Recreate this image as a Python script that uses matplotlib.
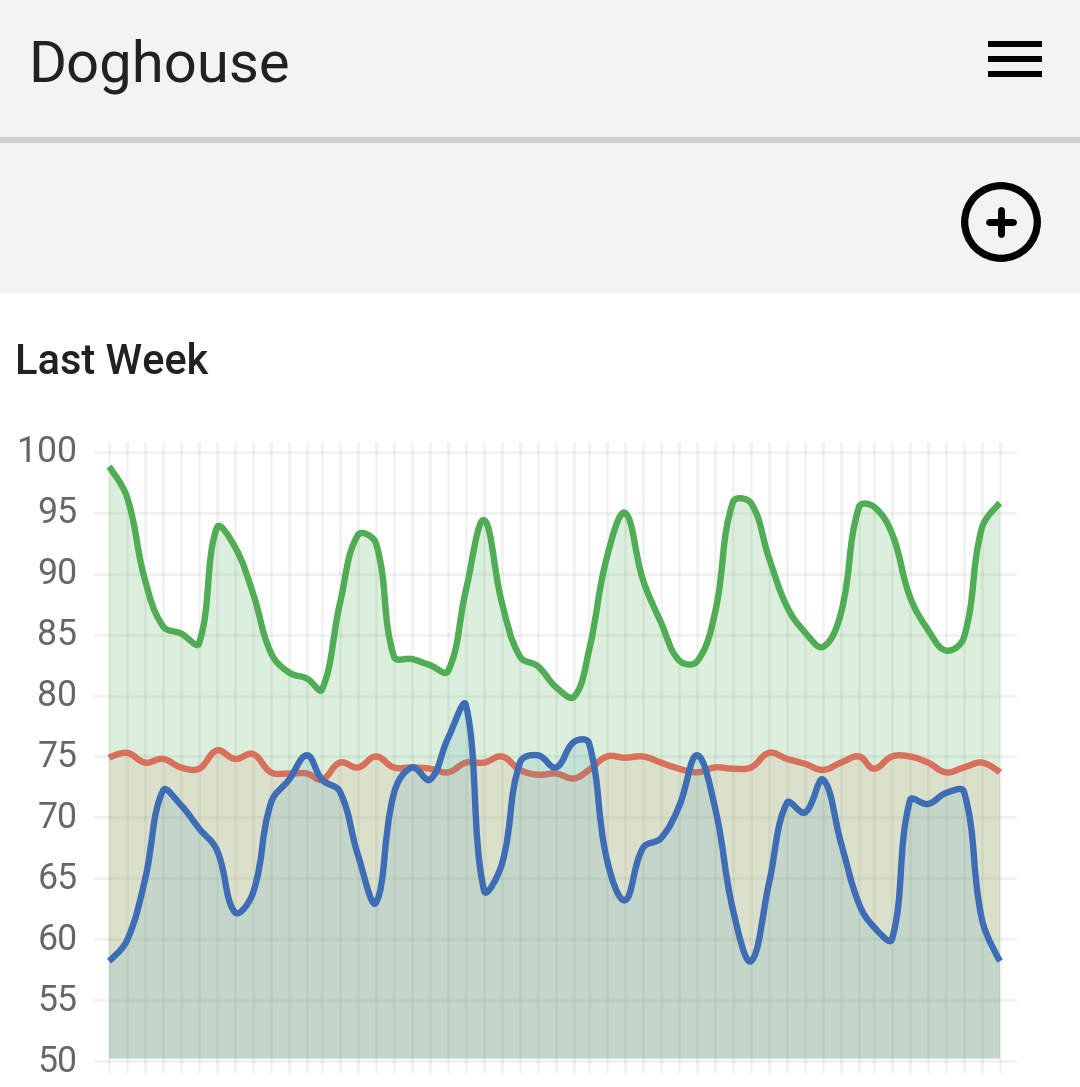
import math
import matplotlib
matplotlib.use('Agg')
import matplotlib.pyplot as plt
from matplotlib.patches import Rectangle, Circle, PathPatch
from matplotlib.path import Path
from matplotlib.transforms import ScaledTranslation

plt.rcParams['font.family'] = ['Roboto', 'DejaVu Sans']

# Time of each sample in hours (the axis is a time scale, a few steps are shorter)
hours = [0, 3, 6, 9, 12, 15, 18, 21, 24, 27, 30, 33, 35.5, 38.5, 41.5, 44.5, 47.5,
         50.5, 53.5, 56.5, 59.5, 62.5, 65.5, 68.5, 71.5, 74.5, 77.5, 80, 83, 86, 89,
         92, 95, 98, 101, 104, 107, 110, 113, 116, 119, 122, 125, 127.5, 130.5,
         133.5, 136.5, 139.5, 142.5, 145.5, 148.5]

green = [98.8, 96.3, 89.5, 85.7, 85.1, 84.3, 93.8, 92.2, 88.4, 83.5, 81.9, 81.4,
         80.5, 87.6, 93.2, 92.5, 83.2, 83.0, 82.5, 82.0, 88.7, 94.4, 87.6, 83.2,
         82.4, 80.7, 79.9, 83.7, 91.4, 95.0, 89.5, 86.0, 82.9, 82.8, 86.8, 95.9,
         95.8, 91.3, 87.3, 85.2, 84.0, 86.8, 95.5, 95.5, 93.3, 88.1, 85.4, 83.7,
         84.8, 93.8, 95.8]

red = [74.9, 75.3, 74.5, 74.8, 74.1, 74.0, 75.5, 74.8, 75.2, 73.7, 73.6, 73.6,
       73.1, 74.5, 74.1, 75.0, 74.1, 74.1, 74.0, 73.7, 74.5, 74.5, 75.0, 73.9,
       73.5, 73.6, 73.2, 73.9, 75.0, 74.9, 75.0, 74.5, 74.0, 73.7, 74.1, 74.0,
       74.1, 75.3, 74.8, 74.4, 73.9, 74.5, 75.0, 74.0, 75.0, 75.0, 74.5, 73.7,
       74.1, 74.5, 73.7]

blue = [58.2, 59.9, 64.9, 72.2, 71.0, 69.1, 67.3, 62.2, 63.8, 71.2, 73.1, 75.1,
        73.1, 72.1, 66.9, 63.0, 72.0, 74.1, 73.1, 76.5, 79.2, 64.0, 66.2, 74.5,
        75.1, 74.1, 76.2, 76.1, 66.5, 63.2, 67.5, 68.3, 70.9, 75.1, 70.8, 62.4,
        58.2, 64.6, 71.2, 70.4, 73.1, 67.9, 62.9, 61.0, 60.0, 71.4, 71.1, 72.0,
        72.1, 61.6, 58.2]

y_ticks = [50, 55, 60, 65, 70, 75, 80, 85, 90, 95, 100]


def smooth_path(xs, ys, sx, sy, base=None, tension=0.4):
    """Bezier through the samples, control points worked out like chart.js does."""
    n = len(xs)
    before = []
    after = []
    for i in range(n):
        if i == 0 or i == n - 1:
            before.append((xs[i], ys[i]))
            after.append((xs[i], ys[i]))
            continue
        d01 = math.hypot((xs[i] - xs[i - 1]) * sx, (ys[i] - ys[i - 1]) * sy)
        d12 = math.hypot((xs[i + 1] - xs[i]) * sx, (ys[i + 1] - ys[i]) * sy)
        fa = tension * d01 / (d01 + d12)
        fb = tension * d12 / (d01 + d12)
        dx = xs[i + 1] - xs[i - 1]
        dy = ys[i + 1] - ys[i - 1]
        before.append((xs[i] - fa * dx, ys[i] - fa * dy))
        after.append((xs[i] + fb * dx, ys[i] + fb * dy))
    verts = [(xs[0], ys[0])]
    codes = [Path.MOVETO]
    for i in range(n - 1):
        verts += [after[i], before[i + 1], (xs[i + 1], ys[i + 1])]
        codes += [Path.CURVE4] * 3
    if base is not None:
        verts += [(xs[-1], base), (xs[0], base), (xs[0], ys[0])]
        codes += [Path.LINETO, Path.LINETO, Path.CLOSEPOLY]
    return Path(verts, codes)


W, H = 1080, 1087
fig = plt.figure(figsize=(W / 100, H / 100), dpi=100, facecolor='white')

# page furniture in pixel coordinates
page = fig.add_axes([0, 0, 1, 1])
page.set_xlim(0, W)
page.set_ylim(H, 0)
page.axis('off')
page.add_patch(Rectangle((0, 0), W, 293, color='#f3f3f3', lw=0))
page.add_patch(Rectangle((0, 137), W, 6, color='#cfcfcf', lw=0))
for top in [41, 56, 71]:
    page.add_patch(Rectangle((988, top), 54, 6, color='black', lw=0))
page.add_patch(Circle((1001, 222), 36.3, fill=False, ec='black', lw=5.2))
page.plot([989, 1013], [222, 222], color='black', lw=5, solid_capstyle='round')
page.plot([1001, 1001], [210, 234], color='black', lw=5, solid_capstyle='round')
page.text(28.5, 82, 'Doghouse', fontsize=41.8, color='#212121', va='baseline')
page.text(15, 374, 'Last Week', fontsize=30, color='#212121', fontweight='medium', va='baseline')

# chart area
px_left, px_right, px_top, px_bottom = 94, 1017, 442, 1073
ax = fig.add_axes([px_left / W, 1 - px_bottom / H, (px_right - px_left) / W, (px_bottom - px_top) / H])
ax.patch.set_alpha(0)
px_per_hour = (1000 - 109) / hours[-1]
ax.set_xlim(-(109 - px_left) / px_per_hour, (px_right - 109) / px_per_hour)
px_per_unit = (1061 - 452) / 50
ax.set_ylim(50 - (px_bottom - 1061) / px_per_unit, 100 + (452 - px_top) / px_per_unit)

ax.set_xticks(hours)
ax.set_yticks(y_ticks)
ax.grid(True, color='black', alpha=0.05, lw=2.0)
ax.set_axisbelow(True)
ax.tick_params(length=0, labelbottom=False)
ax.tick_params(axis='y', labelsize=25.7, labelcolor='#666666', pad=12)
for s in ax.spines.values():
    s.set_visible(False)
# labels sit a little above their grid lines
lift = ScaledTranslation(0, 3.5 / 100, fig.dpi_scale_trans)
for label in ax.get_yticklabels():
    label.set_transform(label.get_transform() + lift)

base = 50.2
series = [(green, '#50ad55', '#4caf50', 0.2),
          (red, '#d9705c', '#db6549', 0.1),
          (blue, '#3f6db5', '#3f9ab4', 0.14)]
for values, line_color, fill_color, fill_alpha in series:
    ax.add_patch(PathPatch(smooth_path(hours, values, px_per_hour, px_per_unit, base),
                           fc=fill_color, ec='none', alpha=fill_alpha))
    ax.add_patch(PathPatch(smooth_path(hours, values, px_per_hour, px_per_unit),
                           fc='none', ec=line_color, lw=4.6, capstyle='butt'))

fig.savefig('out.png', dpi=100)
